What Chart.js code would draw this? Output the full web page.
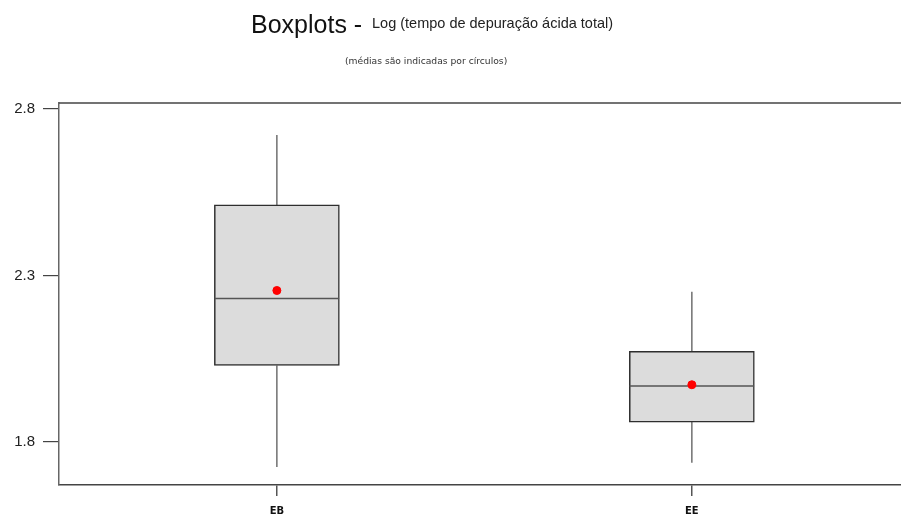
<!DOCTYPE html>
<html>
<head>
<meta charset="utf-8">
<script src="https://cdn.jsdelivr.net/npm/chart.js@4/dist/chart.umd.min.js"></script>
<style>
  html, body { margin: 0; padding: 0; background: #fff; }
  #wrap { position: relative; width: 901px; height: 517px; }
  #c { position: absolute; left: 0; top: 0; }
  .t { position: absolute; white-space: nowrap; line-height: 1; color: #111; }
  #t1 { left: 251px; top: 10px; font: 25px "Liberation Sans", Arial, sans-serif; }
  #t2 { left: 372px; top: 15px; font: 14.5px "Liberation Sans", Arial, sans-serif; color: #222; }
  #t3 { left: 345px; top: 55px; font: 9.2px "DejaVu Sans", Verdana, sans-serif; color: #333; }
</style>
</head>
<body>
<div id="wrap">
  <canvas id="c" width="901" height="517"></canvas>
  <div class="t" id="t1">Boxplots -</div>
  <div class="t" id="t2">Log (tempo de depuração ácida total)</div>
  <div class="t" id="t3">(médias são indicadas por círculos)</div>
</div>
<script>
const categories = ['EB', 'EE'];
const whiskerLow = [1.725, 1.738];
const q1 = [2.030, 1.860];
const median = [2.231, 1.968];
const q3 = [2.512, 2.072];
const whiskerHigh = [2.722, 2.251];
const means = [2.255, 1.972];
const yTicks = [1.8, 2.3, 2.8];

const halfBox = 0.15;
const datasets = [];

datasets.push({
  type: 'bar',
  data: categories.map((c, i) => ({ x: i, y: [q1[i], q3[i]] })),
  backgroundColor: '#dcdcdc',
  borderColor: '#2e2e2e',
  borderWidth: 1.5,
  borderSkipped: false,
  barThickness: 125,
  order: 3
});
categories.forEach((c, i) => {
  datasets.push({
    type: 'line',
    data: [{ x: i, y: whiskerHigh[i] }, { x: i, y: q3[i] }],
    borderColor: '#707070', borderWidth: 1.5, pointRadius: 0, order: 4
  });
  datasets.push({
    type: 'line',
    data: [{ x: i, y: q1[i] }, { x: i, y: whiskerLow[i] }],
    borderColor: '#707070', borderWidth: 1.5, pointRadius: 0, order: 4
  });
  datasets.push({
    type: 'line',
    data: [{ x: i - halfBox, y: median[i] }, { x: i + halfBox, y: median[i] }],
    borderColor: '#555555', borderWidth: 1.5, pointRadius: 0, order: 2
  });
});
datasets.push({
  type: 'scatter',
  data: categories.map((c, i) => ({ x: i, y: means[i] })),
  backgroundColor: '#ff0000',
  borderColor: '#ff0000',
  pointRadius: 4,
  order: 1
});

const frameLines = {
  id: 'frameLines',
  afterDraw(chart) {
    const a = chart.chartArea, ctx = chart.ctx;
    ctx.save();
    ctx.strokeStyle = '#444';
    ctx.lineWidth = 1.5;
    ctx.beginPath();
    ctx.moveTo(a.left, a.top);
    ctx.lineTo(901, a.top);
    ctx.moveTo(a.right, a.bottom);
    ctx.lineTo(901, a.bottom);
    ctx.stroke();
    ctx.restore();
  }
};

new Chart(document.getElementById('c'), {
  type: 'bar',
  data: { datasets },
  plugins: [frameLines],
  options: {
    responsive: false,
    animation: false,
    layout: { autoPadding: false, padding: { top: 103, right: 0, left: 0, bottom: 0 } },
    plugins: { legend: { display: false }, tooltip: { enabled: false }, title: { display: false } },
    scales: {
      x: {
        type: 'linear',
        min: -0.525,
        max: 1.504,
        offset: false,
        afterBuildTicks(ax) { ax.ticks = categories.map((c, i) => ({ value: i })); },
        afterFit(ax) { ax.height = 32; ax.paddingLeft = 0; ax.paddingRight = 0; },
        ticks: {
          callback: v => categories[v],
          font: { family: 'DejaVu Sans', size: 10, weight: 'bold' },
          color: '#111',
          padding: 9,
          maxRotation: 0
        },
        grid: { offset: false, drawOnChartArea: false, drawTicks: true, tickLength: 11, color: '#555', lineWidth: 1.5 },
        border: { display: true, color: '#444', width: 1.5 }
      },
      y: {
        type: 'linear',
        min: 1.671,
        max: 2.818,
        afterBuildTicks(ax) { ax.ticks = yTicks.map(v => ({ value: v })); },
        afterFit(ax) { ax.width = 59; },
        ticks: {
          callback: v => v.toFixed(1),
          font: { family: 'Liberation Sans', size: 15 },
          color: '#222',
          padding: 8
        },
        grid: { drawOnChartArea: false, drawTicks: true, tickLength: 16, color: '#444', lineWidth: 1.2 },
        border: { display: true, color: '#666', width: 1.5 }
      }
    }
  }
});
</script>
</body>
</html>
